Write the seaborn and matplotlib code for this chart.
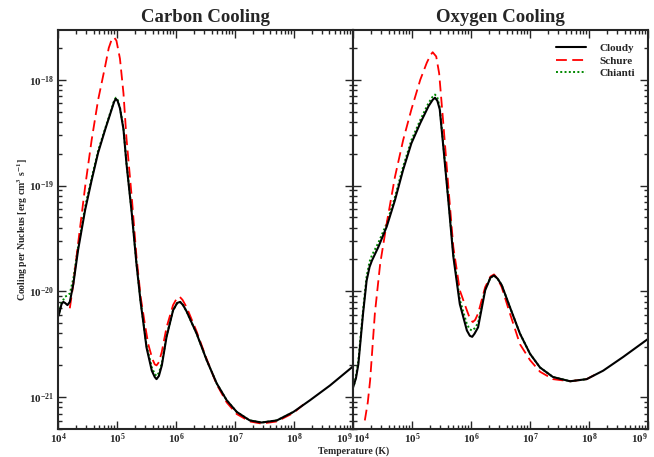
import numpy as np
import pandas as pd
import matplotlib
matplotlib.use("Agg")
import matplotlib.pyplot as plt
import seaborn as sns
from matplotlib.ticker import LogLocator, NullFormatter

# ---- data (log10 T [K], log10 cooling [erg cm^3 s^-1]) ----
c_cloudy_logT = [4.00, 4.02, 4.06, 4.09, 4.12, 4.16, 4.20, 4.26, 4.34, 4.46, 4.57, 4.68, 4.80,
                 4.91, 4.95, 4.98, 5.01, 5.05, 5.11, 5.16, 5.25, 5.33, 5.40, 5.45, 5.50, 5.59,
                 5.64, 5.67, 5.71, 5.76, 5.84, 5.95, 6.02, 6.07, 6.12, 6.18, 6.35, 6.52, 6.69,
                 6.86, 7.03, 7.25, 7.45, 7.71, 7.99, 8.27, 8.61, 9.00]
c_cloudy_logL = [-20.24, -20.21, -20.12, -20.10, -20.11, -20.13, -20.10, -19.93, -19.61, -19.23,
                 -18.95, -18.69, -18.47, -18.28, -18.21, -18.18, -18.20, -18.27, -18.47, -18.79,
                 -19.26, -19.74, -20.10, -20.31, -20.53, -20.75, -20.81, -20.83, -20.80, -20.70,
                 -20.43, -20.18, -20.11, -20.10, -20.13, -20.19, -20.40, -20.65, -20.87, -21.03,
                 -21.14, -21.22, -21.24, -21.22, -21.14, -21.03, -20.89, -20.71]

c_schure_logT = [4.20, 4.26, 4.34, 4.46, 4.57, 4.68, 4.80, 4.86, 4.91, 4.95, 4.99, 5.05, 5.11,
                 5.16, 5.25, 5.33, 5.40, 5.47, 5.53, 5.60, 5.64, 5.67, 5.71, 5.76, 5.84, 5.95,
                 6.01, 6.06, 6.11, 6.18, 6.35, 6.52, 6.69, 6.86, 7.03, 7.25, 7.45, 7.71, 7.99,
                 8.16]
c_schure_logL = [-20.16, -19.93, -19.55, -19.01, -18.57, -18.19, -17.87, -17.70, -17.62, -17.60,
                 -17.63, -17.80, -18.13, -18.55, -19.11, -19.67, -20.05, -20.30, -20.50, -20.64,
                 -20.69, -20.70, -20.67, -20.57, -20.34, -20.13, -20.07, -20.05, -20.08, -20.15,
                 -20.38, -20.64, -20.88, -21.05, -21.16, -21.23, -21.25, -21.23, -21.15, -21.07]

c_chianti_logT = [4.02, 4.06, 4.09, 4.12, 4.16, 4.20, 4.26, 4.34, 4.46, 4.57, 4.68, 4.80, 4.91,
                  4.95, 4.98, 5.01, 5.05, 5.11, 5.16, 5.25, 5.33, 5.40, 5.45, 5.50, 5.59, 5.64,
                  5.67, 5.71, 5.76, 5.84, 5.95, 6.02, 6.07, 6.12, 6.18, 6.35, 6.52, 6.69, 6.86,
                  7.03, 7.25, 7.45, 7.71, 7.99]
c_chianti_logL = [-20.20, -20.11, -20.08, -20.05, -20.04, -20.02, -19.88, -19.58, -19.20, -18.93,
                  -18.67, -18.46, -18.27, -18.20, -18.17, -18.19, -18.26, -18.46, -18.78, -19.25,
                  -19.73, -20.09, -20.30, -20.51, -20.72, -20.78, -20.80, -20.77, -20.68, -20.42,
                  -20.18, -20.11, -20.10, -20.13, -20.19, -20.40, -20.65, -20.87, -21.03, -21.14,
                  -21.22, -21.24, -21.22, -21.14]

o_cloudy_logT = [4.00, 4.05, 4.09, 4.13, 4.17, 4.23, 4.28, 4.32, 4.43, 4.57, 4.71, 4.85, 4.99,
                 5.14, 5.28, 5.35, 5.39, 5.43, 5.47, 5.53, 5.62, 5.70, 5.81, 5.93, 5.98, 6.02,
                 6.06, 6.12, 6.24, 6.33, 6.39, 6.45, 6.52, 6.66, 6.83, 7.00, 7.17, 7.39, 7.68,
                 7.96, 8.24, 8.58, 9.00]
o_cloudy_logL = [-20.91, -20.82, -20.69, -20.45, -20.21, -19.90, -19.77, -19.71, -19.58, -19.39,
                 -19.14, -18.85, -18.60, -18.41, -18.25, -18.19, -18.17, -18.20, -18.28, -18.63,
                 -19.17, -19.67, -20.12, -20.37, -20.42, -20.43, -20.40, -20.34, -19.99, -19.87,
                 -19.85, -19.88, -19.94, -20.15, -20.40, -20.59, -20.72, -20.81, -20.85, -20.83,
                 -20.75, -20.62, -20.45]

o_schure_logT = [4.20, 4.25, 4.29, 4.37, 4.46, 4.57, 4.71, 4.85, 4.99, 5.14, 5.25, 5.31, 5.35,
                 5.41, 5.46, 5.53, 5.62, 5.70, 5.81, 5.93, 5.99, 6.03, 6.07, 6.12, 6.24, 6.33,
                 6.39, 6.45, 6.52, 6.66, 6.83, 7.00, 7.17, 7.39, 7.68, 7.96, 8.13]
o_schure_logL = [-21.22, -21.05, -20.84, -20.21, -19.74, -19.36, -18.92, -18.57, -18.28, -18.00,
                 -17.84, -17.77, -17.74, -17.78, -17.94, -18.41, -19.04, -19.58, -19.99, -20.18,
                 -20.27, -20.29, -20.27, -20.21, -19.96, -19.86, -19.84, -19.88, -19.96, -20.21,
                 -20.50, -20.65, -20.76, -20.83, -20.85, -20.83, -20.78]

o_chianti_logT = [4.02, 4.05, 4.09, 4.13, 4.17, 4.23, 4.28, 4.32, 4.43, 4.57, 4.71, 4.85, 4.99,
                  5.14, 5.28, 5.35, 5.39, 5.43, 5.47, 5.53, 5.62, 5.70, 5.81, 5.93, 5.98, 6.02,
                  6.06, 6.12, 6.24, 6.33, 6.39, 6.45, 6.52, 6.66, 6.83, 7.00, 7.17, 7.39, 7.68,
                  7.96]
o_chianti_logL = [-20.88, -20.80, -20.66, -20.42, -20.18, -19.86, -19.72, -19.66, -19.54, -19.36,
                  -19.11, -18.82, -18.57, -18.38, -18.22, -18.16, -18.14, -18.17, -18.26, -18.61,
                  -19.15, -19.64, -20.08, -20.31, -20.36, -20.37, -20.35, -20.30, -19.98, -19.87,
                  -19.85, -19.88, -19.94, -20.15, -20.40, -20.59, -20.72, -20.81, -20.85, -20.83]

panels = {
    "Carbon Cooling": [(c_cloudy_logT, c_cloudy_logL), (c_schure_logT, c_schure_logL),
                       (c_chianti_logT, c_chianti_logL)],
    "Oxygen Cooling": [(o_cloudy_logT, o_cloudy_logL), (o_schure_logT, o_schure_logL),
                       (o_chianti_logT, o_chianti_logL)],
}
series_names = ["Cloudy", "Schure", "Chianti"]
series_styles = {
    "Cloudy": dict(color="black", linestyle="-", linewidth=1.5),
    "Schure": dict(color="#ff0000", linestyle=(0, (6, 3)), linewidth=1.3),
    "Chianti": dict(color="#008800", linestyle=(0, (1, 1.2)), linewidth=1.4),
}

sns.set_style("ticks")
plt.rcParams["font.family"] = ["Liberation Serif", "DejaVu Serif"]
plt.rcParams["font.weight"] = "bold"
plt.rcParams["mathtext.fontset"] = "stix"
plt.rcParams["mathtext.default"] = "bf"

fig = plt.figure(figsize=(6.54, 4.57), dpi=100)
ax_l = fig.add_axes([0.0887, 0.0613, 0.451, 0.873])
ax_r = fig.add_axes([0.5398, 0.0613, 0.451, 0.873])

for ax, (title, series) in zip([ax_l, ax_r], panels.items()):
    # draw Chianti first, then Schure, then Cloudy on top
    for name, (lt, ll) in reversed(list(zip(series_names, series))):
        df = pd.DataFrame({"T": 10.0 ** np.array(lt), "L": 10.0 ** np.array(ll)})
        sns.lineplot(data=df, x="T", y="L", ax=ax, estimator=None, sort=False,
                     label=name, **series_styles[name])
    ax.set_xscale("log")
    ax.set_yscale("log")
    ax.set_title(title, fontsize=13.5, fontweight="bold", pad=6)
    ax.set_xlabel("")
    ax.set_ylabel("")
    ax.set_xticks([1e4, 1e5, 1e6, 1e7, 1e8, 1e9])
    ax.set_yticks([1e-21, 1e-20, 1e-19, 1e-18])
    ax.xaxis.set_minor_locator(LogLocator(base=10, subs=np.arange(2, 10), numticks=20))
    ax.yaxis.set_minor_locator(LogLocator(base=10, subs=np.arange(2, 10), numticks=20))
    ax.xaxis.set_minor_formatter(NullFormatter())
    ax.yaxis.set_minor_formatter(NullFormatter())
    ax.set_xlim(1e4, 1e9)
    ax.set_ylim(5.0e-22, 2.95e-18)
    ax.tick_params(which="both", direction="in", top=True, right=True, width=1.0)
    ax.tick_params(which="major", length=6, labelsize=8, pad=3)
    ax.tick_params(axis="x", which="major", pad=2)
    ax.tick_params(which="minor", length=3)
    for sp in ax.spines.values():
        sp.set_linewidth(1.5)
    for lab in ax.get_xticklabels() + ax.get_yticklabels():
        lab.set_fontweight("bold")
    ax.get_legend().remove()

# end labels shifted so the two panels' labels sit side by side at the join
ax_l.get_xticklabels()[-1].set_horizontalalignment("right")
ax_r.get_xticklabels()[0].set_horizontalalignment("left")
ax_r.get_xticklabels()[-1].set_horizontalalignment("right")

ax_r.set_yticklabels([])
fig.text(0.034, 0.498, "Cooling per Nucleus [erg cm$^{3}$ s$^{-1}$]", rotation=90,
         ha="center", va="center", fontsize=7, fontweight="bold")

handles, labels = ax_r.get_legend_handles_labels()
order = [labels.index(n) for n in series_names]
leg = ax_r.legend([handles[i] for i in order], [labels[i] for i in order],
                  loc="upper right", frameon=False, fontsize=8, handlelength=2.7,
                  handletextpad=1.2, labelspacing=0.25, borderaxespad=0.8)
for t in leg.get_texts():
    t.set_fontweight("bold")

fig.text(0.54, 0.002, "Temperature (K)", ha="center", va="bottom", fontsize=7, fontweight="bold")

fig.savefig("out.png", dpi=100)
